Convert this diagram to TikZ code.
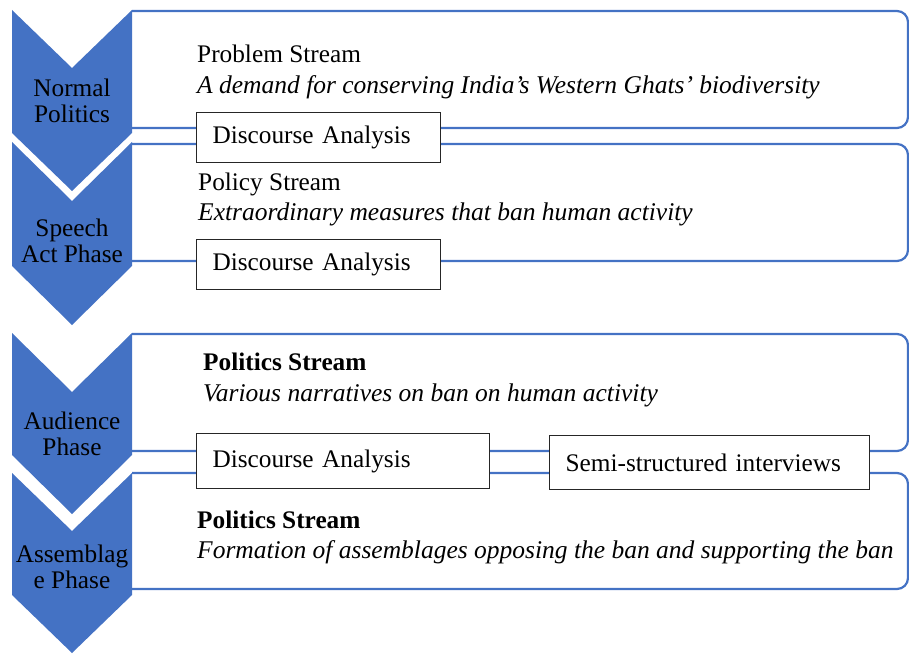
\documentclass[tikz,border=0pt]{standalone}
\usepackage{fontspec}
\setmainfont{Liberation Serif}
\definecolor{phaseblue}{HTML}{4472C4}
\begin{document}
\begin{tikzpicture}[x=1pt,y=-1pt,
  phase/.style={fill=phaseblue,draw=none},
  stream/.style={draw=phaseblue,line width=2.2pt,rounded corners=11pt},
  method/.style={draw=black!85,line width=1.1pt,fill=white,anchor=north west,
    align=left,inner xsep=16pt,inner ysep=0pt,font=\fontsize{25.3}{30}\selectfont},
  label/.style={anchor=base west,inner sep=0pt,font=\fontsize{25.3}{30}\selectfont},
  note/.style={anchor=base west,inner sep=0pt,font=\fontsize{25.5}{30}\selectfont\itshape},
  phaselabel/.style={anchor=center,align=center,inner sep=0pt,
    font=\fontsize{25.3}{26}\selectfont}]
\useasboundingbox (0,0) rectangle (909,655);

% stream panels (open on the left, closed by the chevrons)
\draw[stream] (132,11) -- (908,11) -- (908,128) -- (132,128);
\draw[stream] (132,144) -- (908,144) -- (908,261) -- (132,261);
\draw[stream] (132,334) -- (908,334) -- (908,451) -- (132,451);
\draw[stream] (132,473) -- (908,473) -- (908,589) -- (132,589);

% phase chevrons
\fill[phase] (12,10) -- (72,68) -- (132,10) -- (132,133) -- (72,191) -- (12,133) -- cycle;
\fill[phase] (12,142) -- (72,201) -- (132,142) -- (132,266) -- (72,325) -- (12,266) -- cycle;
\fill[phase] (12,333) -- (72,392) -- (132,333) -- (132,455) -- (72,514) -- (12,455) -- cycle;
\fill[phase] (12,473) -- (72,531) -- (132,473) -- (132,595) -- (72,653) -- (12,595) -- cycle;

\node[phaselabel] (p1) at (72,101) {Normal\\Politics};
\node[phaselabel] (p2) at (72,241) {Speech\\Act Phase};
\node[phaselabel] (p3) at (72,434) {Audience\\Phase};
\node[phaselabel] (p4) at (72,567) {Assemblag\\e Phase};

% stream texts
\node[label] (s1) at (197,63) {Problem Stream};
\node[note] (d1) at (197,94) {A demand for conserving India’s Western Ghats’ biodiversity};
\node[label] (s2) at (198,190) {Policy Stream};
\node[note] (d2) at (198,220) {Extraordinary measures that ban human activity};
\node[label] (s3) at (203,370) {\bfseries Politics Stream};
\node[note] (d3) at (203,401) {Various narratives on ban on human activity};
\node[label] (s4) at (197,528) {\bfseries Politics Stream};
\node[note] (d4) at (197,558) {Formation of assemblages opposing the ban and supporting the ban};

% method boxes
\node[method,text width=212pt,minimum height=50pt] (m1) at (196,112) {Discourse Analysis};
\node[method,text width=212pt,minimum height=50pt] (m2) at (196,239) {Discourse Analysis};
\node[method,text width=261pt,minimum height=55pt] (m3) at (196,433) {Discourse Analysis};
\node[method,text width=288pt,minimum height=54pt] (m4) at (549,435) {Semi-structured interviews};
\end{tikzpicture}
\end{document}
